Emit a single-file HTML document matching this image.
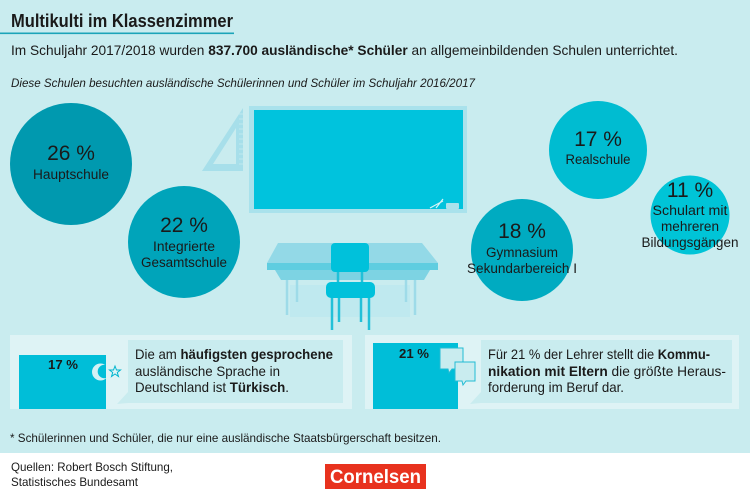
<!DOCTYPE html>
<html><head><meta charset="utf-8"><style>
html,body{margin:0;padding:0;background:#fff;}
svg{display:block;}
text{font-family:"Liberation Sans",sans-serif;fill:#1a1a1a;}
</style></head><body>
<svg width="750" height="500" viewBox="0 0 750 500" xmlns="http://www.w3.org/2000/svg">
<defs>
<mask id="cres">
<rect x="80" y="350" width="40" height="40" fill="#fff"/>
<circle cx="104.5" cy="371.5" r="6.8" fill="#000"/>
</mask>
</defs>
<rect x="0" y="0" width="750" height="453" fill="#c9ecef"/>
<rect x="0" y="453" width="750" height="47" fill="#ffffff"/>

<!-- Title -->
<text x="11" y="27" font-size="18" font-weight="bold" textLength="222" lengthAdjust="spacingAndGlyphs">Multikulti im Klassenzimmer</text>
<rect x="0" y="32.5" width="234" height="1.6" fill="#1ba4b8"/>
<text x="11" y="55" font-size="14" textLength="667" lengthAdjust="spacingAndGlyphs">Im Schuljahr 2017/2018 wurden <tspan font-weight="bold">837.700 ausländische* Schüler</tspan> an allgemeinbildenden Schulen unterrichtet.</text>
<text x="11" y="87" font-size="11.5" font-style="italic" textLength="464" lengthAdjust="spacingAndGlyphs">Diese Schulen besuchten ausländische Schülerinnen und Schüler im Schuljahr 2016/2017</text>

<!-- Triangle ruler -->
<path d="M243,108 L243,171 L202,171 Z M236,128 L236,164 L213,164 Z" fill="#a7dfea" fill-rule="evenodd"/>
<g stroke="#c9ecef" stroke-width="0.8">
<line x1="239" y1="114" x2="243" y2="114"/><line x1="239" y1="119" x2="243" y2="119"/><line x1="239" y1="124" x2="243" y2="124"/><line x1="239" y1="129" x2="243" y2="129"/><line x1="239" y1="134" x2="243" y2="134"/><line x1="239" y1="139" x2="243" y2="139"/><line x1="239" y1="144" x2="243" y2="144"/><line x1="239" y1="149" x2="243" y2="149"/><line x1="239" y1="154" x2="243" y2="154"/><line x1="239" y1="159" x2="243" y2="159"/><line x1="239" y1="164" x2="243" y2="164"/>
</g>

<!-- Blackboard -->
<rect x="249" y="106" width="218" height="107" fill="#a9e2ec"/>
<rect x="254" y="110" width="209" height="99" fill="#00c3dd"/>
<rect x="446" y="203" width="13" height="6" rx="1" fill="#a9e2ec"/>
<path d="M430,208 L443,201 M436,208 L443,199" stroke="#d6f3f7" stroke-width="1.2"/>

<!-- Desk -->
<rect x="290" y="285" width="120" height="32" fill="#bfe9ef"/>
<g stroke="#9edbe8" stroke-width="2.5">
<line x1="287" y1="270" x2="287" y2="315"/>
<line x1="297" y1="270" x2="297" y2="302"/>
<line x1="406" y1="270" x2="406" y2="302"/>
<line x1="415" y1="270" x2="415" y2="315"/>
</g>
<path d="M275,270 L430,270 L424,280 L281,280 Z" fill="#7dd3e3"/>
<path d="M278,243 L422,243 L438,263 L267,263 Z" fill="#93d9e7"/>
<rect x="267" y="263" width="171" height="7" fill="#5fcde0"/>
<!-- Chair -->
<g stroke="#22c0d8" stroke-width="2.5">
<line x1="338" y1="270" x2="338" y2="284"/>
<line x1="362" y1="270" x2="362" y2="284"/>
<line x1="332" y1="296" x2="332" y2="330"/>
<line x1="339" y1="296" x2="339" y2="322"/>
<line x1="361" y1="296" x2="361" y2="322"/>
<line x1="369" y1="296" x2="369" y2="330"/>
</g>
<rect x="331" y="243" width="38" height="29" rx="4" fill="#00c1db"/>
<rect x="326" y="282" width="49" height="16" rx="5" fill="#00c1db"/>

<!-- Circles -->
<circle cx="71" cy="164" r="61" fill="#0099af"/>
<text x="71" y="160" font-size="21" text-anchor="middle">26 %</text>
<text x="71" y="179" font-size="13.5" text-anchor="middle" textLength="76" lengthAdjust="spacingAndGlyphs">Hauptschule</text>

<circle cx="184" cy="242" r="56" fill="#00a4ba"/>
<text x="184" y="232" font-size="21" text-anchor="middle">22 %</text>
<text x="184" y="251" font-size="13.5" text-anchor="middle" textLength="62" lengthAdjust="spacingAndGlyphs">Integrierte</text>
<text x="184" y="267" font-size="13.5" text-anchor="middle" textLength="86" lengthAdjust="spacingAndGlyphs">Gesamtschule</text>

<circle cx="598" cy="150" r="49" fill="#00bcd1"/>
<text x="598" y="146" font-size="21" text-anchor="middle">17 %</text>
<text x="598" y="164" font-size="13.5" text-anchor="middle" textLength="65" lengthAdjust="spacingAndGlyphs">Realschule</text>

<circle cx="522" cy="250" r="51" fill="#00abc1"/>
<text x="522" y="238" font-size="21" text-anchor="middle">18 %</text>
<text x="522" y="257" font-size="13.5" text-anchor="middle" textLength="72" lengthAdjust="spacingAndGlyphs">Gymnasium</text>
<text x="522" y="273" font-size="13.5" text-anchor="middle" textLength="110" lengthAdjust="spacingAndGlyphs">Sekundarbereich I</text>

<circle cx="690" cy="215" r="39.5" fill="#00c4d7"/>
<text x="690" y="197" font-size="21" text-anchor="middle">11 %</text>
<text x="690" y="215" font-size="13.5" text-anchor="middle" textLength="75" lengthAdjust="spacingAndGlyphs">Schulart mit</text>
<text x="690" y="231" font-size="13.5" text-anchor="middle" textLength="58" lengthAdjust="spacingAndGlyphs">mehreren</text>
<text x="690" y="247" font-size="13.5" text-anchor="middle" textLength="97" lengthAdjust="spacingAndGlyphs">Bildungsgängen</text>

<!-- Bottom left panel -->
<rect x="10" y="335" width="342" height="74" fill="#def3f5"/>
<rect x="19" y="355" width="87" height="54" fill="#00bed8"/>
<text x="63" y="369" font-size="13" font-weight="bold" text-anchor="middle" textLength="30" lengthAdjust="spacingAndGlyphs">17 %</text>
<circle cx="100.5" cy="372" r="8.5" fill="#d3f1f5" mask="url(#cres)"/>
<path d="M115,366 L116.5,370 L120.5,370 L117.3,372.5 L118.5,376.5 L115,374 L111.5,376.5 L112.7,372.5 L109.5,370 L113.5,370 Z" fill="none" stroke="#00b5cf" stroke-width="1"/>
<rect x="128" y="340" width="215" height="63" fill="#c9ecef"/>
<path d="M128,392 L117,404 L128,403 Z" fill="#c9ecef"/>
<text x="135" y="359" font-size="14" textLength="198" lengthAdjust="spacingAndGlyphs">Die am <tspan font-weight="bold">häufigsten gesprochene</tspan></text>
<text x="135" y="376" font-size="14" textLength="145" lengthAdjust="spacingAndGlyphs">ausländische Sprache in</text>
<text x="135" y="392" font-size="14" textLength="154" lengthAdjust="spacingAndGlyphs">Deutschland ist <tspan font-weight="bold">Türkisch</tspan>.</text>

<!-- Bottom right panel -->
<rect x="365" y="335" width="374" height="74" fill="#def3f5"/>
<rect x="373" y="343" width="85" height="66" fill="#00bed8"/>
<text x="414" y="358" font-size="13" font-weight="bold" text-anchor="middle" textLength="30" lengthAdjust="spacingAndGlyphs">21 %</text>
<path d="M440,348 L463,348 L463,369 L452,369 L449,373 L448,369 L440,369 Z" fill="#c9ecef" stroke="#22bcd4" stroke-width="1"/>
<path d="M455,362 L475,362 L475,381 L466,381 L463,385 L462,381 L455,381 Z" fill="#c9ecef" stroke="#22bcd4" stroke-width="1"/>
<rect x="481" y="340" width="251" height="63" fill="#c9ecef"/>
<path d="M481,392 L470,404 L481,403 Z" fill="#c9ecef"/>
<text x="488" y="359" font-size="14" textLength="222" lengthAdjust="spacingAndGlyphs">Für 21 % der Lehrer stellt die <tspan font-weight="bold">Kommu-</tspan></text>
<text x="488" y="376" font-size="14" textLength="238" lengthAdjust="spacingAndGlyphs"><tspan font-weight="bold">nikation mit Eltern</tspan> die größte Heraus-</text>
<text x="488" y="392" font-size="14" textLength="136" lengthAdjust="spacingAndGlyphs">forderung im Beruf dar.</text>

<!-- Footnote -->
<text x="10" y="442" font-size="12" textLength="431" lengthAdjust="spacingAndGlyphs">* Schülerinnen und Schüler, die nur eine ausländische Staatsbürgerschaft besitzen.</text>

<!-- Footer -->
<text x="11" y="471" font-size="12" textLength="162" lengthAdjust="spacingAndGlyphs">Quellen: Robert Bosch Stiftung,</text>
<text x="11" y="486" font-size="12" textLength="127" lengthAdjust="spacingAndGlyphs">Statistisches Bundesamt</text>
<rect x="325" y="464" width="101" height="25" fill="#e8321e"/>
<text x="375.5" y="483" font-size="19" font-weight="bold" text-anchor="middle" style="fill:#ffffff" textLength="91" lengthAdjust="spacingAndGlyphs">Cornelsen</text>
</svg>
</body></html>
